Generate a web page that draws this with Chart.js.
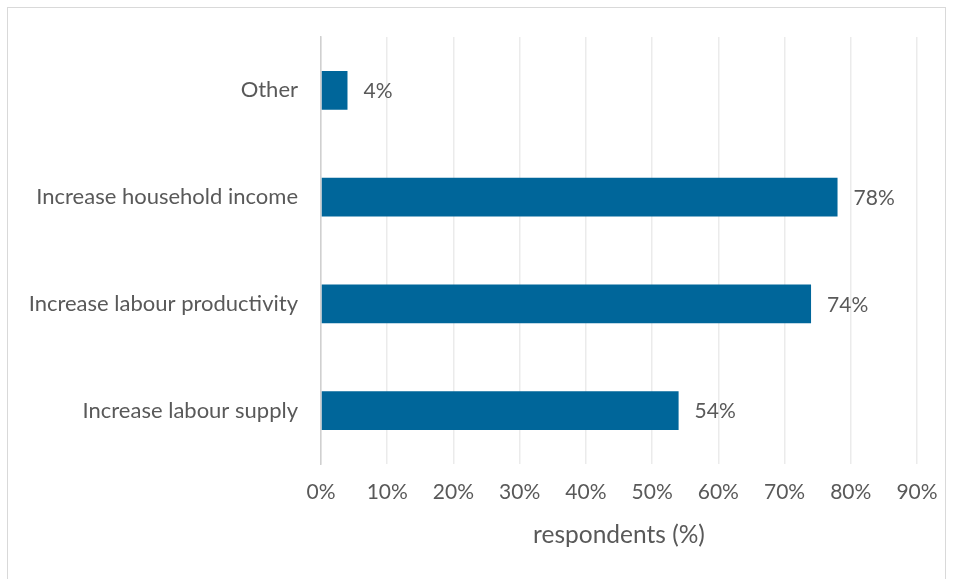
<!DOCTYPE html>
<html>
<head>
<meta charset="utf-8">
<script src="https://cdn.jsdelivr.net/npm/chart.js@4"></script>
<style>
    html,body{margin:0;padding:0;background:#fff;}
    #marco{position:absolute;left:7px;top:7px;width:939px;height:580px;border:1px solid #d9d9d9;box-sizing:border-box;}
    #cont{position:absolute;left:0;top:0;width:955px;height:579px;}
</style>
</head>
<body>
<div id="marco"></div>
<div id="cont"><canvas id="grafico1"></canvas></div>
<script>
// datos
let categorias=['Other','Increase household income','Increase labour productivity','Increase labour supply'];
let valores=[4,78,74,54];
let ticksX=['0%','10%','20%','30%','40%','50%','60%','70%','80%','90%'];
let tituloX='respondents (%)';

let fuente="Lato, 'Open Sans', sans-serif";
let gris='#595959';

// etiquetas al final de cada barra
let etiquetas={
    id:'etiquetas',
    afterDatasetsDraw(chart){
        let ctx=chart.ctx;
        let meta=chart.getDatasetMeta(0);
        ctx.save();
        ctx.font='21px '+fuente;
        ctx.fillStyle=gris;
        ctx.textAlign='left';
        ctx.textBaseline='middle';
        meta.data.forEach((barra,i)=>{
            ctx.fillText(valores[i]+'%',barra.x+16,barra.y+1);
        });
        ctx.restore();
    }
}

let canvasG1=document.getElementById('grafico1').getContext('2d');
let datos={
    labels:categorias,
    datasets:[{
        data:valores,
        backgroundColor:'#00669A',
        borderWidth:0,
        barPercentage:0.73,
        categoryPercentage:0.5,
    }]
}
let opciones={
    indexAxis:'y',
    maintainAspectRatio:false,
    responsive:true,
    animation:false,
    layout:{padding:{left:0,top:37,right:38,bottom:29}},
    plugins:{legend:{display:false},tooltip:{enabled:false}},
    scales:{
        x:{
            min:0,
            max:90,
            afterFit:function(scale){scale.height=86;},
            ticks:{
                stepSize:10,
                padding:16,
                color:gris,
                font:{family:fuente,size:21},
                callback:function(v,i){return ticksX[i];}
            },
            grid:{color:'#ebebeb',lineWidth:1.5,drawTicks:false},
            border:{display:false},
            title:{display:true,text:tituloX,color:gris,font:{family:fuente,size:24.5},padding:{top:15,bottom:0}}
        },
        y:{
            afterFit:function(scale){scale.width=321;},
            ticks:{padding:23,color:gris,font:{family:fuente,size:22}},
            grid:{display:false,drawTicks:false},
            border:{display:true,color:'#d0d0d0',width:1.5}
        }
    }
}
let G1=new Chart(canvasG1,{
    type:'bar',
    data:datos,
    options:opciones,
    plugins:[etiquetas]
})
</script>
</body>
</html>
